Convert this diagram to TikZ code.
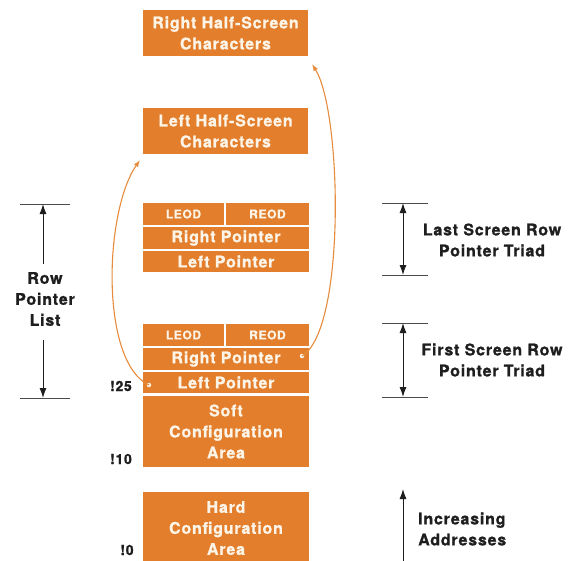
\documentclass[tikz,border=0pt]{standalone}
\usepackage{fontspec}
\setmainfont{TeX Gyre Heros}
\newfontfamily\boxfont[LetterSpace=5,FakeBold=1.2]{TeX Gyre Heros Bold}
\usetikzlibrary{arrows.meta,calc}
\definecolor{hporange}{RGB}{226,126,44}
\definecolor{cream}{RGB}{252,244,230}
\definecolor{curveor}{RGB}{230,140,60}
\definecolor{ink}{RGB}{30,30,30}
\begin{document}
\begin{tikzpicture}[x=1pt,y=-1pt,
  box/.style={fill=hporange,inner sep=0pt,outer sep=0pt,text=cream,align=center,anchor=north west,
    font=\boxfont\fontsize{16}{21}\selectfont},
  small/.style={box,font=\boxfont\fontsize{12}{14}\selectfont},
  lbl/.style={text=ink,align=center,inner sep=0pt,font=\boxfont\fontsize{16}{21}\selectfont},
  addr/.style={text=ink,inner sep=0pt,font=\boxfont\fontsize{14}{16}\selectfont},
  tick/.style={draw=ink!80,line width=0.9pt},
  dim/.style={draw=ink,line width=1pt,-{Latex[length=10pt,width=7pt]}},
  ddim/.style={draw=ink,line width=1pt,{Latex[length=10pt,width=7pt]}-{Latex[length=10pt,width=7pt]}},
  link/.style={draw=curveor,line width=1.1pt,-{Latex[length=7pt,width=5pt]}},
  dot/.style={circle,fill=cream,inner sep=0pt,minimum size=4.5pt}]
\useasboundingbox[fill=white] (0,0) rectangle (576,560);

% top character boxes
\node[box,minimum width=165pt,minimum height=46pt] (rhs) at (143,10) {Right Half-Screen\\Characters};
\node[box,minimum width=165pt,minimum height=46pt] (lhs) at (143,108) {Left Half-Screen\\Characters};

% last screen row pointer triad
\node[small,minimum width=81pt,minimum height=22pt] (leod2) at (143,203) {LEOD};
\node[small,minimum width=83pt,minimum height=22pt] (reod2) at (226,203) {REOD};
\node[box,minimum width=166pt,minimum height=22pt] (rp2) at (143,227) {Right Pointer};
\node[box,minimum width=166pt,minimum height=21pt] (lp2) at (143,251) {Left Pointer};

% first screen row pointer triad
\node[small,minimum width=81pt,minimum height=22pt] (leod1) at (143,324) {LEOD};
\node[small,minimum width=83pt,minimum height=22pt] (reod1) at (226,324) {REOD};
\node[box,minimum width=166pt,minimum height=22pt] (rp1) at (143,348) {Right Pointer};
\node[box,minimum width=166pt,minimum height=21pt] (lp1) at (143,372) {Left Pointer};
\node[box,minimum width=166pt,minimum height=71pt] (soft) at (143,396) {Soft\\Configuration\\Area};
\node[box,minimum width=166pt,minimum height=72pt] (hard) at (143,492) {Hard\\Configuration\\Area};

% address labels
\node[addr] (a25) at (121,386) {!25};
\node[addr] (a10) at (121,459) {!10};
\node[addr] (a0) at (127,550) {!0};

% pointer curves
\node[dot] (ldot) at (149,385) {};
\node[dot] (rdot) at (302,356) {};
\coordinate (lend) at (140,160);
\coordinate (rend) at (312,64);
\draw[link] (ldot.center) .. controls (100,362) and (104,212) .. (lend);
\draw[link] (rdot.center) .. controls (346,330) and (342,112) .. (rend);

% row pointer list bracket
\coordinate (lt1) at (20,204); \coordinate (lt2) at (70,204);
\coordinate (lb1) at (20,398); \coordinate (lb2) at (70,398);
\draw[tick] (lt1) -- (lt2);
\draw[tick] (lb1) -- (lb2);
\node[lbl] (rpl) at (45,299) {Row\\Pointer\\List};
\coordinate (lta) at (43,204); \coordinate (lba) at (43,398);
\coordinate (ltb) at (43,264); \coordinate (lbb) at (43,340);
\draw[dim] (ltb) -- (lta);
\draw[dim] (lbb) -- (lba);

% last triad bracket
\coordinate (r1a) at (382,203); \coordinate (r1b) at (428,203);
\coordinate (r2a) at (382,275); \coordinate (r2b) at (428,275);
\draw[tick] (r1a) -- (r1b);
\draw[tick] (r2a) -- (r2b);
\coordinate (r1m) at (403,203); \coordinate (r2m) at (403,275);
\draw[ddim] (r1m) -- (r2m);
\node[lbl] (lastlbl) at (492,240) {Last Screen Row\\Pointer Triad};

% first triad bracket
\coordinate (r3a) at (382,323); \coordinate (r3b) at (428,323);
\coordinate (r4a) at (382,397); \coordinate (r4b) at (428,397);
\draw[tick] (r3a) -- (r3b);
\draw[tick] (r4a) -- (r4b);
\coordinate (r3m) at (403,323); \coordinate (r4m) at (403,397);
\draw[ddim] (r3m) -- (r4m);
\node[lbl] (firstlbl) at (492,360) {First Screen Row\\Pointer Triad};

% increasing addresses
\coordinate (ia) at (403,562); \coordinate (ib) at (403,489);
\draw[dim] (ia) -- (ib);
\node[lbl,align=left,anchor=west] (inc) at (418,529) {Increasing\\Addresses};
\end{tikzpicture}
\end{document}
